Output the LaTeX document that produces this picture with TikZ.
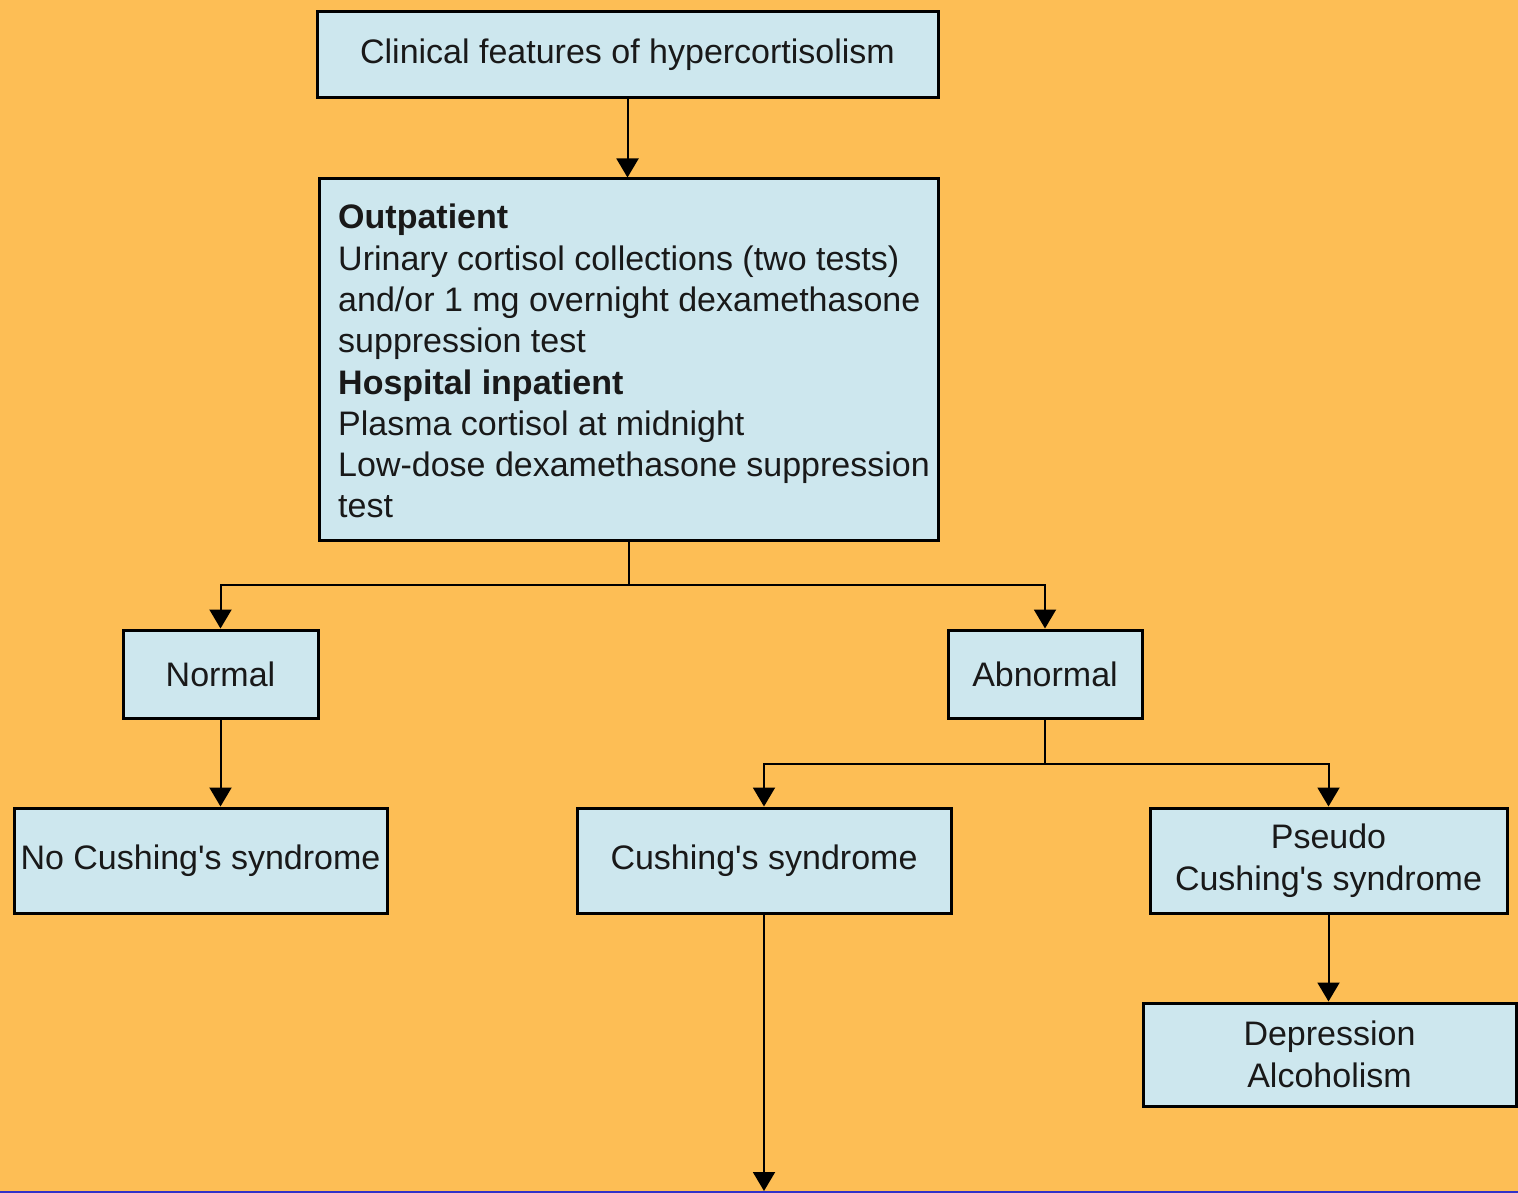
\documentclass[tikz,border=0pt]{standalone}
\usepackage{fontspec}
\setmainfont{Liberation Sans}[Ligatures=TeXOff]
\usetikzlibrary{arrows.meta}
\definecolor{bg}{RGB}{253,190,85}
\definecolor{boxfill}{RGB}{205,231,238}
\definecolor{edgeblue}{RGB}{50,50,200}
\definecolor{ink}{RGB}{25,25,25}
\begin{document}
\begin{tikzpicture}[x=1pt,y=-1pt,
  box/.style={draw=black, line width=3pt, fill=boxfill, inner sep=0pt, align=center,
    font=\fontsize{34}{41.5}\selectfont, text=ink},
  arr/.style={line width=2pt, -{Triangle[width=22pt,length=19pt]}},
  lin/.style={line width=2pt}]
\fill[bg] (0,0) rectangle (1518,1193);
\useasboundingbox (0,0) rectangle (1518,1193);
\draw[edgeblue, line width=2.5pt] (0,1192) -- (1518,1192);

\node[box, minimum width=621pt, minimum height=86pt] (top) at (627.5,55) {Clinical features of hypercortisolism};
\node[box, minimum width=619pt, minimum height=361pt] (main) at (628.5,359.5) {};
\node[anchor=north west, inner sep=0pt, align=left, text=ink,
  font=\fontsize{34}{41.3}\selectfont] (maintext) at (338,204)
  {\textbf{Outpatient}\\
   Urinary cortisol collections (two tests)\\
   and/or 1 mg overnight dexamethasone\\
   suppression test\\
   \textbf{Hospital inpatient}\\
   Plasma cortisol at midnight\\
   Low-dose dexamethasone suppression\\
   test};
\node[box, minimum width=195pt, minimum height=88pt] (normal) at (220.5,674) {Normal};
\node[box, minimum width=194pt, minimum height=88pt] (abn) at (1045,674) {Abnormal};
\node[box, minimum width=373pt, minimum height=105pt] (nocush) at (200.5,860.5) {No Cushing's syndrome};
\node[box, minimum width=374pt, minimum height=105pt] (cush) at (764,860.5) {Cushing's syndrome};
\node[box, minimum width=357pt, minimum height=105pt] (pseudo) at (1328.5,860.5) {Pseudo\\Cushing's syndrome};
\node[box, minimum width=373pt, minimum height=103pt] (dep) at (1329.5,1054.5) {Depression\\Alcoholism};
\coordinate (bot) at (764,1191);

\draw[arr] (top.south) -- (top.south |- main.north);
\draw[lin] (main.south) -- ++(0,43) coordinate (split1);
\draw[arr] (split1) -| (normal.north);
\draw[arr] (split1) -| (abn.north);
\draw[arr] (normal.south) -- (normal.south |- nocush.north);
\draw[lin] (abn.south) -- ++(0,44) coordinate (split2);
\draw[arr] (split2) -| (cush.north);
\draw[arr] (split2) -| (pseudo.north);
\draw[arr] (pseudo.south) -- (pseudo.south |- dep.north);
\draw[arr] (cush.south) -- (bot);
\end{tikzpicture}
\end{document}
